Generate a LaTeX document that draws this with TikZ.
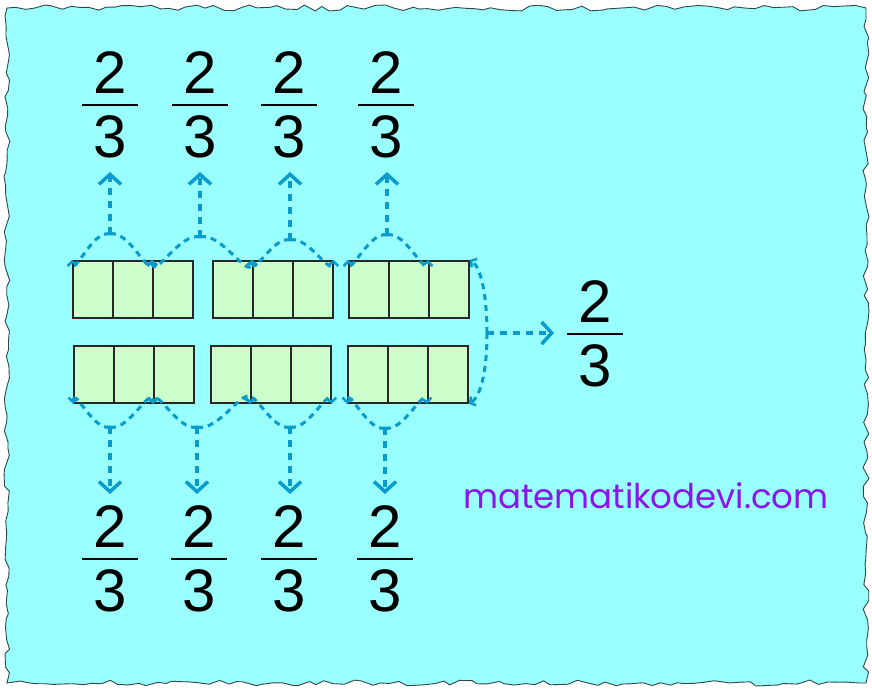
\documentclass[tikz,border=0pt]{standalone}
\usepackage{fontspec}
\setmainfont{Liberation Sans}
\newfontfamily\wmfont{Poppins}
\usetikzlibrary{arrows.meta,decorations.pathmorphing}
\definecolor{bgcyan}{RGB}{153,255,255}
\definecolor{cellgreen}{RGB}{204,255,204}
\definecolor{arrowblue}{RGB}{10,155,205}
\definecolor{wmpurple}{RGB}{140,20,235}
\definecolor{edgegray}{RGB}{50,70,70}
\begin{document}
\begin{tikzpicture}[x=1pt,y=-1pt,
  cell/.style={draw=black!85, line width=1.7pt, fill=cellgreen, minimum width=40pt, minimum height=57pt, inner sep=0pt, anchor=north west},
  digit/.style={font=\fontsize{60}{60}\selectfont, inner sep=0pt, anchor=base},
  fracbar/.style={line width=2.8pt},
  arcline/.style={arrowblue, line width=3pt, dash pattern=on 6pt off 5pt, -{Straight Barb[length=4pt,width=10pt,line width=2.5pt]}},
  stem/.style={arrowblue, line width=4pt, dash pattern=on 7pt off 6pt, -{Straight Barb[length=10pt,width=22pt,line width=3.5pt]}}]
\useasboundingbox (0,0) rectangle (872,693);
\fill[white] (0,0) rectangle (872,693);
\pgfmathsetseed{7}
\draw[edgegray, fill=bgcyan, line width=0.9pt, decorate, decoration={random steps, segment length=9pt, amplitude=3pt}]
  (7,8) -- (866,8) -- (866,683) -- (7,683) -- cycle;

% fractions
\foreach \n/\x/\y in {t1/110/93, t2/200/93, t3/289/93, t4/386/93,
                      u1/110/547, u2/199/547, u3/289/547, u4/385/547, r/595/322} {
  \node[digit] (\n n) at (\x,\y) {2};
  \node[digit] (\n d) at (\x,\y+64) {3};
  \draw[fracbar] (\x-28,\y+12) -- (\x+28,\y+12);
}

% cells
\foreach \gx/\g in {72/1,212/2,348/3}
  \foreach \c in {0,1,2}
    \node[cell] (a\g\c) at (\gx+40*\c,260) {};
\foreach \gx/\g in {73/1,210/2,347/3}
  \foreach \c in {0,1,2}
    \node[cell] (b\g\c) at (\gx+40*\c,345) {};

% top junctions and tips
\foreach \i/\x/\y in {1/110/234, 2/200/237, 3/290/240, 4/387/235} {
  \coordinate (tp\i) at (\x,\y);
  \coordinate (tt\i) at (\x,172);
  \draw[stem] (tp\i) -- (tt\i);
}
\draw[arcline] (tp1) to[out=165,in=275] (a10.north west);
\draw[arcline] (tp1) to[out=15,in=265] (a12.north west);
\draw[arcline] (tp2) to[out=165,in=275] (a12.north west);
\draw[arcline] (tp2) to[out=15,in=265] (a21.north west);
\draw[arcline] (tp3) to[out=165,in=275] (a21.north west);
\draw[arcline] (tp3) to[out=15,in=265] (a22.north east);
\draw[arcline] (tp4) to[out=165,in=275] (a30.north west);
\draw[arcline] (tp4) to[out=15,in=265] (a32.north west);

% bottom junctions and tips
\foreach \i/\x/\y in {1/110/427, 2/197/427, 3/290/427, 4/385/428} {
  \coordinate (bp\i) at (\x,\y);
  \coordinate (bt\i) at (\x,494);
  \draw[stem] (bp\i) -- (bt\i);
}
\draw[arcline] (bp1) to[out=195,in=85] (b10.south west);
\draw[arcline] (bp1) to[out=345,in=95] (b12.south west);
\draw[arcline] (bp2) to[out=195,in=85] (b12.south west);
\draw[arcline] (bp2) to[out=345,in=95] (b21.south west);
\draw[arcline] (bp3) to[out=195,in=85] (b21.south west);
\draw[arcline] (bp3) to[out=345,in=95] (b22.south east);
\draw[arcline] (bp4) to[out=195,in=85] (b30.south west);
\draw[arcline] (bp4) to[out=345,in=95] (b32.south west);

% right
\coordinate (rj) at (487,333);
\coordinate (rt) at (554,333);
\draw[arcline] (rj) .. controls (487,300) and (482,268) .. (a32.north east);
\draw[arcline] (rj) .. controls (487,366) and (482,396) .. (b32.south east);
\draw[stem] (rj) -- (rt);

\node[font=\wmfont\fontsize{34}{34}\selectfont, text=wmpurple, anchor=base west, inner sep=0pt] (wm) at (463,508) {matematikodevi.com};
\end{tikzpicture}
\end{document}
